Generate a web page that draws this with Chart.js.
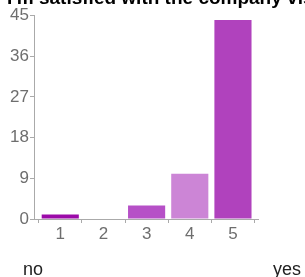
<!DOCTYPE html>
<html>
<head>
<meta charset="utf-8">
<script src="https://cdn.jsdelivr.net/npm/chart.js@4/dist/chart.umd.min.js"></script>
<style>
html,body{margin:0;padding:0;background:#fff;}
#wrap{position:relative;width:305px;height:277px;}
</style>
</head>
<body>
<div id="wrap"><canvas id="c" width="305" height="277"></canvas></div>
<script>
const titleText = "I'm satisfied with the company visit";
const categories = [1, 2, 3, 4, 5];
const counts = [1, 0, 3, 10, 44];
const barColors = ['#9b0aa8', '#b650c7', '#b650c7', '#cc85d6', '#b042bd'];
const yTicks = [0, 9, 18, 27, 36, 45];
const endLabels = ['no', 'yes'];

const extras = {
  id: 'extras',
  afterDraw(chart) {
    const ctx = chart.ctx;
    ctx.save();
    ctx.fillStyle = '#000';
    ctx.font = 'bold 19px "Liberation Sans", Arial, sans-serif';
    ctx.textBaseline = 'alphabetic';
    ctx.textAlign = 'left';
    ctx.fillText(titleText, 7, 4);
    ctx.fillStyle = '#222';
    ctx.font = '18px "Liberation Sans", Arial, sans-serif';
    ctx.fillText(endLabels[0], 23, 275);
    ctx.textAlign = 'right';
    ctx.fillText(endLabels[1], 301, 275);
    ctx.restore();
  }
};

new Chart(document.getElementById('c'), {
  type: 'bar',
  data: {
    datasets: [{
      data: categories.map((c, i) => ({x: c, y: counts[i]})),
      backgroundColor: barColors,
      borderWidth: 0,
      barPercentage: 0.86,
      categoryPercentage: 1.0
    }]
  },
  plugins: [extras],
  options: {
    responsive: false,
    animation: false,
    devicePixelRatio: 1,
    layout: { padding: { left: 0, right: 47, top: 15.5, bottom: 0 } },
    plugins: { legend: { display: false }, tooltip: { enabled: false }, title: { display: false } },
    scales: {
      x: {
        type: 'linear',
        min: 0.392,
        max: 5.58,
        offset: false,
        afterBuildTicks: s => { s.ticks = categories.map(v => ({value: v})); },
        afterFit: s => { s.height = 58; },
        grid: { display: true, drawOnChartArea: false, drawTicks: true, tickLength: 4, color: '#aaa' },
        border: { display: true, color: '#aaa', width: 1 },
        ticks: { color: '#6e6e6e', padding: 1, font: { family: '"Liberation Sans", Arial, sans-serif', size: 17 }, maxRotation: 0, autoSkip: false }
      },
      y: {
        min: 0,
        max: 45,
        afterBuildTicks: s => { s.ticks = yTicks.map(v => ({value: v})); },
        afterFit: s => { s.width = 34; },
        grid: { display: true, drawOnChartArea: false, drawTicks: true, tickLength: 4, color: '#aaa' },
        border: { display: true, color: '#aaa', width: 1 },
        ticks: { color: '#6e6e6e', padding: 1, font: { family: '"Liberation Sans", Arial, sans-serif', size: 17 } }
      }
    }
  }
});
</script>
</body>
</html>
